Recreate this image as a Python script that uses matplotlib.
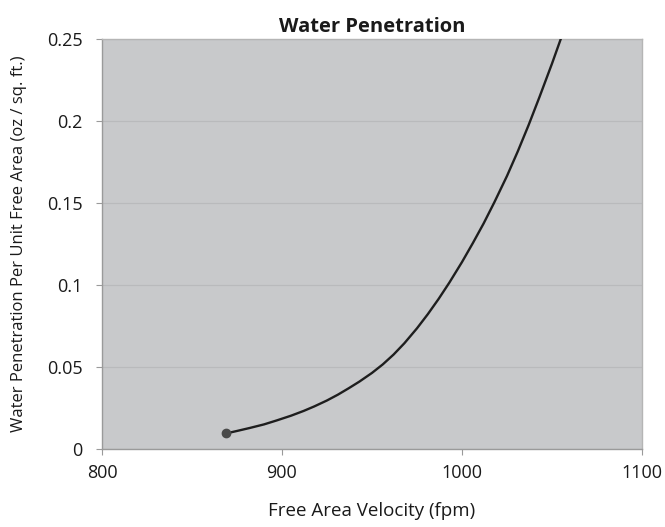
import matplotlib
matplotlib.use("Agg")
import matplotlib.pyplot as plt

velocity = [869, 875, 882, 890, 897, 905, 912, 918, 925, 931, 937, 943, 950, 956, 962, 968,
            975, 981, 987, 993, 1000, 1006, 1012, 1018, 1025, 1031, 1037, 1043, 1050, 1056, 1060]
penetration = [0.0095, 0.0110, 0.0128, 0.0150, 0.0174, 0.0203, 0.0232, 0.0260, 0.0296, 0.0331,
               0.0370, 0.0411, 0.0464, 0.0516, 0.0576, 0.0645, 0.0736, 0.0822, 0.0915, 0.1015,
               0.1140, 0.1255, 0.1375, 0.1505, 0.1665, 0.1815, 0.1975, 0.2145, 0.2350, 0.2535, 0.2660]
x_ticks = [800, 900, 1000, 1100]
y_ticks = [0, 0.05, 0.1, 0.15, 0.2, 0.25]
y_tick_labels = ["0", "0.05", "0.1", "0.15", "0.2", "0.25"]

plt.rcParams['font.family'] = ['Open Sans', 'DejaVu Sans']

fig = plt.figure(figsize=(6.65, 5.27), dpi=100)
ax = fig.add_axes([102/665, 78/527, 540/665, 410/527])
ax.set_facecolor('#c8c9cb')

ax.plot(velocity, penetration, color='#1e1e1e', lw=1.7, zorder=3,
        solid_capstyle='round', solid_joinstyle='round')
ax.plot([velocity[0]], [penetration[0]], marker='o', ms=6, color='#4a4a4a', zorder=4)

ax.set_xlim(800, 1100)
ax.set_ylim(0, 0.25)
ax.set_xticks(x_ticks)
ax.set_yticks(y_ticks)
ax.set_yticklabels(y_tick_labels)
ax.grid(axis='y', color='#b9babc', lw=0.9, zorder=1)
ax.set_axisbelow(True)

for s in ['left', 'bottom']:
    ax.spines[s].set_color('#9a9a9a')
    ax.spines[s].set_linewidth(1.0)
for s in ['top', 'right']:
    ax.spines[s].set_color('#b5b5b5')
    ax.spines[s].set_linewidth(1.0)

ax.tick_params(axis='both', colors='#9a9a9a', labelcolor='#1a1a1a', labelsize=13, length=4, width=0.8)
ax.tick_params(axis='y', pad=10)
ax.tick_params(axis='x', pad=7)

ax.set_title('Water Penetration', fontsize=14.5, fontweight='bold', color='#1a1a1a', pad=5)
ax.set_xlabel('Free Area Velocity (fpm)', fontsize=13.5, color='#1a1a1a', labelpad=14)
ax.set_ylabel('Water Penetration Per Unit Free Area (oz / sq. ft.)', fontsize=12, color='#1a1a1a', labelpad=14)

fig.savefig('out.png', dpi=100)
